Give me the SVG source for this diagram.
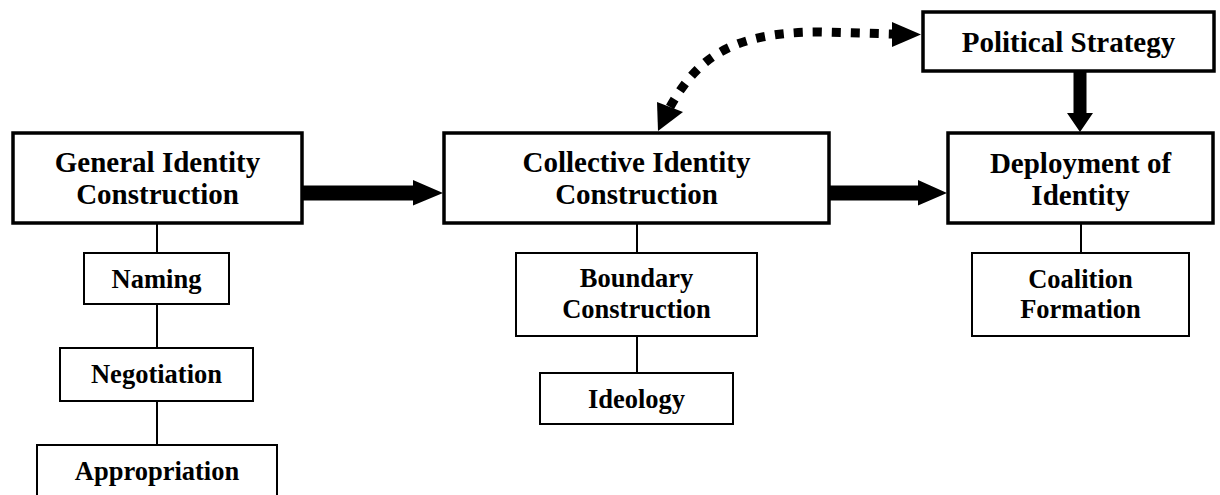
<svg xmlns="http://www.w3.org/2000/svg" width="1220" height="495" viewBox="0 0 1220 495">
<style>
.main{fill:#fff;stroke:#000;stroke-width:3.5}
.sub{fill:#fff;stroke:#000;stroke-width:2}
.t1{font-family:"Liberation Serif","Times New Roman",serif;font-weight:bold;font-size:29px;fill:#000;text-anchor:middle}
.t2{font-family:"Liberation Serif","Times New Roman",serif;font-weight:bold;font-size:26.5px;fill:#000;text-anchor:middle}
.ln{stroke:#000;stroke-width:2;fill:none}
</style>
<rect width="1220" height="495" fill="#fff"/>
<g id="connectors">
<line class="ln" x1="157" y1="223" x2="157" y2="253"/>
<line class="ln" x1="157" y1="304" x2="157" y2="348"/>
<line class="ln" x1="157" y1="401" x2="157" y2="445"/>
<line class="ln" x1="637" y1="223" x2="637" y2="253"/>
<line class="ln" x1="637" y1="336" x2="637" y2="373"/>
<line class="ln" x1="1081" y1="223" x2="1081" y2="253"/>
<polygon points="302,185.5 413,185.5 413,180 443,193 413,205.5 413,200.5 302,200.5" fill="#000"/>
<polygon points="830,185.5 918,185.5 918,180 947,193 918,205.5 918,200.5 830,200.5" fill="#000"/>
<polygon points="1073.5,71 1086.5,71 1086.5,113 1093,113 1080,132 1067,113 1073.5,113" fill="#000"/>
<path d="M 670 107 C 697 59, 730 32, 820 32 L 893 34" fill="none" stroke="#000" stroke-width="9" stroke-dasharray="9 10"/>
<polygon points="892,22 921,34.5 892,47" fill="#000"/>
<polygon points="658,131 657,102 683,112" fill="#000"/>
</g>
<g id="general">
<rect class="main" x="13" y="133" width="289" height="90"/>
<text class="t1" x="157.5" y="172">General Identity</text>
<text class="t1" x="157.5" y="204">Construction</text>
</g>
<g id="collective">
<rect class="main" x="444" y="133" width="385" height="90"/>
<text class="t1" x="636.5" y="172">Collective Identity</text>
<text class="t1" x="636.5" y="204">Construction</text>
</g>
<g id="deployment">
<rect class="main" x="948" y="133" width="265" height="90"/>
<text class="t1" x="1080.5" y="173">Deployment of</text>
<text class="t1" x="1080.5" y="205">Identity</text>
</g>
<g id="political">
<rect class="main" x="923" y="12" width="291" height="59"/>
<text class="t1" x="1068.5" y="52">Political Strategy</text>
</g>
<g id="naming">
<rect class="sub" x="84" y="253" width="145" height="51"/>
<text class="t2" x="156.5" y="288">Naming</text>
</g>
<g id="negotiation">
<rect class="sub" x="60" y="348" width="193" height="53"/>
<text class="t2" x="156.5" y="383">Negotiation</text>
</g>
<g id="appropriation">
<rect class="sub" x="37" y="445" width="240" height="70"/>
<text class="t2" x="157" y="480">Appropriation</text>
</g>
<g id="boundary">
<rect class="sub" x="516" y="253" width="241" height="83"/>
<text class="t2" x="636.5" y="287">Boundary</text>
<text class="t2" x="636.5" y="318">Construction</text>
</g>
<g id="ideology">
<rect class="sub" x="540" y="373" width="193" height="51"/>
<text class="t2" x="636.5" y="408">Ideology</text>
</g>
<g id="coalition">
<rect class="sub" x="972" y="253" width="217" height="83"/>
<text class="t2" x="1080.5" y="288">Coalition</text>
<text class="t2" x="1080.5" y="318">Formation</text>
</g>
</svg>
